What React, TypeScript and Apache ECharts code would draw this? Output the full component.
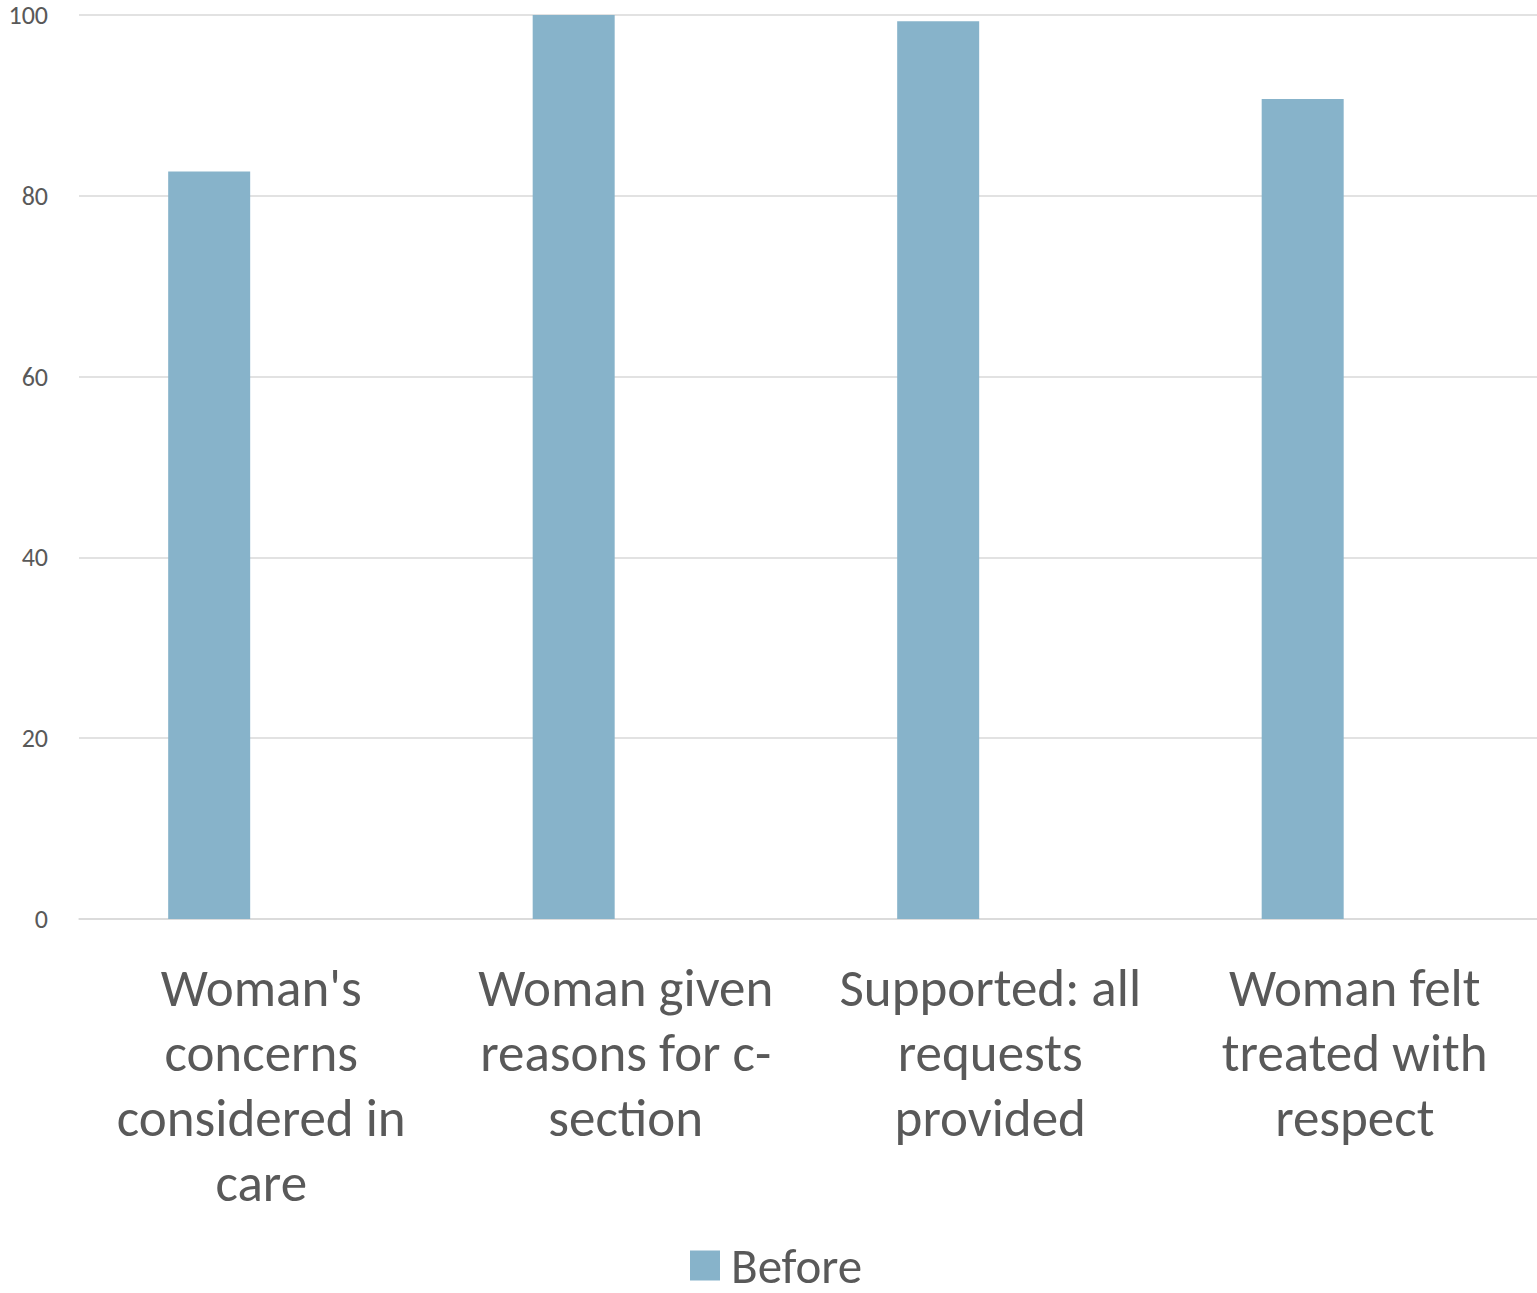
import React, { useEffect, useRef } from "react";
import * as echarts from "echarts";

// Category labels, wrapped the way they appear under each bar
const categories = [
  "Woman's\nconcerns\nconsidered in\ncare",
  "Woman given\nreasons for c-\nsection",
  "Supported: all\nrequests\nprovided",
  "Woman felt\ntreated with\nrespect",
];

// Percentages before the intervention
const beforeValues = [82.7, 100, 99.3, 90.7];

// The "After" column is reserved in each group but holds no values yet
const afterValues: (number | null)[] = [null, null, null, null];

const yTicks = { min: 0, max: 100, interval: 20 };

const FONT = "Carlito, Lato, 'Liberation Sans', sans-serif";
const TEXT = "#595959";

export default function App() {
  const ref = useRef<HTMLDivElement>(null);

  useEffect(() => {
    if (!ref.current) return;
    const chart = echarts.init(ref.current, undefined, { renderer: "svg" });
    chart.setOption({
      animation: false,
      backgroundColor: "#ffffff",
      textStyle: { fontFamily: FONT },
      grid: { left: 79, right: 0, top: 15, bottom: 374, containLabel: false },
      legend: {
        data: ["Before"],
        left: 690,
        top: 1241,
        icon: "rect",
        itemWidth: 30,
        itemHeight: 30,
        itemGap: 10,
        padding: 0,
        textStyle: {
          fontSize: 49,
          lineHeight: 48,
          color: TEXT,
          fontFamily: FONT,
          padding: [0, 0, 0, 6],
        },
      },
      xAxis: {
        type: "category",
        data: categories,
        axisTick: { show: false },
        axisLine: { lineStyle: { color: "#D9D9D9", width: 1.5 } },
        axisLabel: {
          interval: 0,
          fontSize: 53,
          lineHeight: 65,
          color: TEXT,
          margin: 36,
          fontFamily: FONT,
        },
      },
      yAxis: {
        type: "value",
        min: yTicks.min,
        max: yTicks.max,
        interval: yTicks.interval,
        axisLine: { show: false },
        axisTick: { show: false },
        axisLabel: { fontSize: 26, color: TEXT, margin: 31, fontFamily: FONT },
        splitLine: { lineStyle: { color: "#D9D9D9", width: 1.5 } },
      },
      series: [
        {
          name: "Before",
          type: "bar",
          data: beforeValues,
          barWidth: 82,
          barGap: "27%",
          itemStyle: { color: "#87B3CA" },
        },
        {
          name: "After",
          type: "bar",
          data: afterValues,
          barWidth: 82,
          itemStyle: { color: "#D9A08B" },
        },
      ],
    });
    return () => chart.dispose();
  }, []);

  return (
    <div
      ref={ref}
      style={{ position: "fixed", left: 0, top: 0, width: 1537, height: 1293 }}
    />
  );
}
